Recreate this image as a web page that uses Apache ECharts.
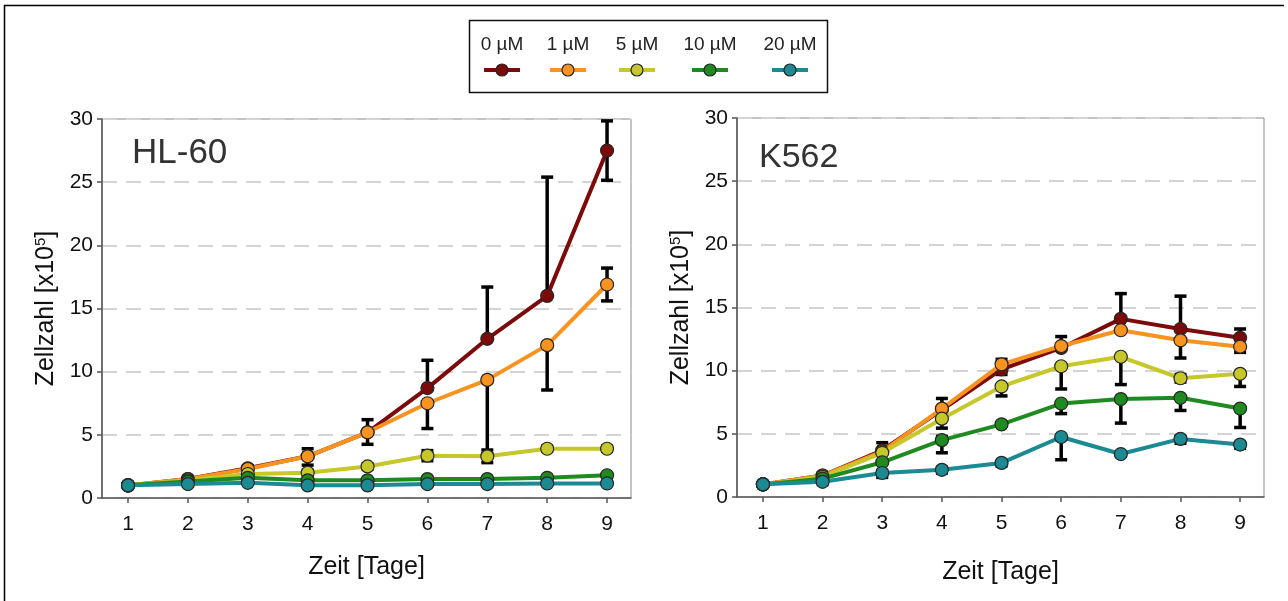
<!DOCTYPE html>
<html><head><meta charset="utf-8">
<script src="https://cdn.jsdelivr.net/npm/echarts@6/dist/echarts.min.js"></script>
<style>html,body{margin:0;padding:0;background:#fff}#c{width:1288px;height:601px}</style>
</head><body><div id="c"></div><script>
// ---- data ----
const days = [1, 2, 3, 4, 5, 6, 7, 8, 9];
const doses = ['0 µM', '1 µM', '5 µM', '10 µM', '20 µM'];
const colors = ['#7d0a0a', '#f7931e', '#c6c72a', '#1f8a1f', '#1b8a93'];
const yTicks = [0, 5, 10, 15, 20, 25, 30];
const panelTitles = ['HL-60', 'K562'];

// HL-60 means (x10^5 cells)
const hl60_0uM  = [1.0, 1.5, 2.35, 3.3, 5.2, 8.7, 12.6, 16.0, 27.5];
const hl60_1uM  = [1.0, 1.5, 2.3, 3.3, 5.2, 7.5, 9.35, 12.1, 16.9];
const hl60_5uM  = [1.0, 1.4, 1.9, 2.0, 2.5, 3.35, 3.3, 3.9, 3.9];
const hl60_10uM = [1.0, 1.3, 1.6, 1.4, 1.4, 1.5, 1.5, 1.6, 1.8];
const hl60_20uM = [1.0, 1.1, 1.2, 1.0, 1.0, 1.1, 1.1, 1.15, 1.15];
// HL-60 error bars as visible: [below, above]
const hl60_0uM_err  = [[0, 0], [0, 0.1], [0, 0.2], [0, 0.6], [0, 1.0], [0, 2.2], [0, 4.1], [0, 9.4], [2.35, 2.35]];
const hl60_1uM_err  = [[0, 0], [0.1, 0], [0.2, 0], [0.7, 0], [0.95, 0], [2.0, 0], [5.85, 0], [3.55, 0], [1.3, 1.3]];
const hl60_5uM_err  = [[0, 0], [0, 0], [0.1, 0.1], [0.2, 0.2], [0.2, 0.2], [0.4, 0.4], [0.5, 0.5], [0.2, 0.2], [0.2, 0.2]];
const hl60_10uM_err = [[0, 0], [0, 0], [0, 0], [0, 0], [0, 0], [0, 0], [0, 0], [0, 0], [0, 0]];
const hl60_20uM_err = [[0, 0], [0, 0], [0, 0], [0, 0], [0, 0], [0, 0], [0, 0], [0, 0], [0, 0]];

// K562 means
const k562_0uM  = [1.0, 1.7, 3.7, 6.9, 10.1, 11.8, 14.1, 13.3, 12.6];
const k562_1uM  = [1.0, 1.7, 3.6, 7.0, 10.5, 11.95, 13.2, 12.4, 11.9];
const k562_5uM  = [1.0, 1.6, 3.5, 6.2, 8.75, 10.35, 11.1, 9.4, 9.75];
const k562_10uM = [1.0, 1.45, 2.75, 4.5, 5.75, 7.4, 7.75, 7.85, 7.0];
const k562_20uM = [1.0, 1.2, 1.9, 2.15, 2.7, 4.75, 3.4, 4.6, 4.15];
// K562 error bars as visible: [below, above]
const k562_0uM_err  = [[0, 0], [0, 0.2], [0, 0.6], [0, 0.9], [0.4, 0], [0, 0.9], [0, 2.0], [0, 2.6], [0, 0.7]];
const k562_1uM_err  = [[0, 0], [0, 0], [0, 0], [0, 0], [0, 0.4], [0, 0], [0, 0], [1.4, 0], [0.45, 0]];
const k562_5uM_err  = [[0, 0], [0, 0], [0, 0], [0.75, 0], [0.75, 0], [1.8, 0], [2.2, 0], [0.3, 0.3], [1.0, 0]];
const k562_10uM_err = [[0, 0], [0, 0], [0, 0], [1.0, 0.3], [0.15, 0.15], [0.8, 0], [1.9, 0], [1.0, 0], [1.5, 0]];
const k562_20uM_err = [[0, 0], [0.2, 0], [0.35, 0.2], [0.25, 0.2], [0.25, 0], [1.8, 0], [0, 0], [0.35, 0.2], [0.3, 0]];

const panels = [
  {vals: [hl60_0uM, hl60_1uM, hl60_5uM, hl60_10uM, hl60_20uM],
   errs: [hl60_0uM_err, hl60_1uM_err, hl60_5uM_err, hl60_10uM_err, hl60_20uM_err]},
  {vals: [k562_0uM, k562_1uM, k562_5uM, k562_10uM, k562_20uM],
   errs: [k562_0uM_err, k562_1uM_err, k562_5uM_err, k562_10uM_err, k562_20uM_err]}
];

// ---- layout ----
const FONT = '"Liberation Sans", Arial, sans-serif';
const grids = [
  {left: 102, right: 657, top: 119, bottom: 103, show: true, borderColor: '#8a8a8a', borderWidth: 1},
  {left: 737, right: 24, top: 118, bottom: 104, show: true, borderColor: '#8a8a8a', borderWidth: 1}
];
const xNameGap = [57, 63];

const xAxes = [], yAxes = [], series = [], titles = [];
panels.forEach((p, pi) => {
  xAxes.push({
    type: 'value', gridIndex: pi, min: 0.565, max: 9.40,
    name: 'Zeit [Tage]', nameLocation: 'middle', nameGap: xNameGap[pi],
    nameTextStyle: {fontFamily: FONT, fontSize: 25, color: '#111'},
    axisLine: {show: true, onZero: false, lineStyle: {color: '#555', width: 1.5}},
    axisTick: {show: true, length: 5, customValues: days, lineStyle: {color: '#555', width: 1.5}},
    axisLabel: {fontFamily: FONT, fontSize: 21, color: '#111', margin: 16, customValues: days},
    splitLine: {show: false}
  });
  yAxes.push({
    type: 'value', gridIndex: pi, min: yTicks[0], max: yTicks[yTicks.length - 1], interval: 5,
    name: 'Zellzahl [x10{s|5}]', nameLocation: 'middle', nameGap: 42,
    nameTextStyle: {fontFamily: FONT, fontSize: 25, color: '#111',
      rich: {s: {fontFamily: FONT, fontSize: 15, color: '#111', padding: [0, 0, 12, 0]}}},
    axisLine: {show: true, lineStyle: {color: '#555', width: 1.5}},
    axisTick: {show: true, length: 5, lineStyle: {color: '#555', width: 1.5}},
    axisLabel: {fontFamily: FONT, fontSize: 21, color: '#111', margin: 9},
    splitLine: {show: true, lineStyle: {color: '#d4d4d4', width: 2, type: [15, 9]}}
  });
  // error bars
  const errData = [];
  p.vals.forEach((arr, si) => {
    arr.forEach((v, di) => {
      const e = p.errs[si][di];
      if (e[0] > 0 || e[1] > 0) errData.push([days[di], v - e[0], v + e[1]]);
    });
  });
  series.push({
    type: 'custom', xAxisIndex: pi, yAxisIndex: pi, z: 1, silent: true,
    data: errData,
    renderItem: (params, api) => {
      const x = api.value(0);
      const a = api.coord([x, api.value(1)]);
      const b = api.coord([x, api.value(2)]);
      const w = 6;
      const st = {stroke: '#000', lineWidth: 3.5};
      return {type: 'group', children: [
        {type: 'line', shape: {x1: a[0], y1: a[1], x2: b[0], y2: b[1]}, style: st},
        {type: 'line', shape: {x1: a[0] - w, y1: a[1], x2: a[0] + w, y2: a[1]}, style: st},
        {type: 'line', shape: {x1: b[0] - w, y1: b[1], x2: b[0] + w, y2: b[1]}, style: st}
      ]};
    }
  });
  p.vals.forEach((arr, si) => {
    series.push({
      type: 'line', name: doses[si], xAxisIndex: pi, yAxisIndex: pi, z: 2 + si,
      data: arr.map((v, di) => [days[di], v]),
      symbol: 'circle', symbolSize: 13,
      lineStyle: {color: colors[si], width: 4},
      itemStyle: {color: colors[si], borderColor: '#262626', borderWidth: 1.2},
      emphasis: {disabled: true}, animation: false
    });
  });
});

titles.push({text: panelTitles[0], left: 127, top: 131,
  textStyle: {fontFamily: FONT, fontSize: 35, fontWeight: 'normal', color: '#333'}});
titles.push({text: panelTitles[1], left: 754, top: 136,
  textStyle: {fontFamily: FONT, fontSize: 34, fontWeight: 'normal', color: '#333'}});

// legend drawn as graphic (text above line+marker)
const legendX = [502, 568, 637, 710, 790];
const legendEls = [
  {type: 'rect', shape: {x: 469.5, y: 20.5, width: 358, height: 72}, style: {fill: '#fff', stroke: '#111', lineWidth: 1.5}}
];
doses.forEach((d, i) => {
  const cx = legendX[i];
  legendEls.push({type: 'text', x: cx, y: 45, style: {text: d, fontFamily: FONT, fontSize: 19, fill: '#222', align: 'center', verticalAlign: 'middle'}});
  legendEls.push({type: 'line', shape: {x1: cx - 18, y1: 70, x2: cx + 18, y2: 70}, style: {stroke: colors[i], lineWidth: 4}});
  legendEls.push({type: 'circle', shape: {cx: cx, cy: 70, r: 6}, style: {fill: colors[i], stroke: '#262626', lineWidth: 1.2}});
});
// outer frame (top and left)
legendEls.push({type: 'polyline', shape: {points: [[4.5, 601], [4.5, 5.5], [1284, 5.5]]}, style: {stroke: '#000', lineWidth: 1.5, fill: null}});

const chart = echarts.init(document.getElementById('c'), null, {renderer: 'canvas'});
chart.setOption({
  backgroundColor: '#fff',
  animation: false,
  title: titles,
  grid: grids,
  xAxis: xAxes,
  yAxis: yAxes,
  series: series,
  graphic: legendEls
});
</script></body></html>
